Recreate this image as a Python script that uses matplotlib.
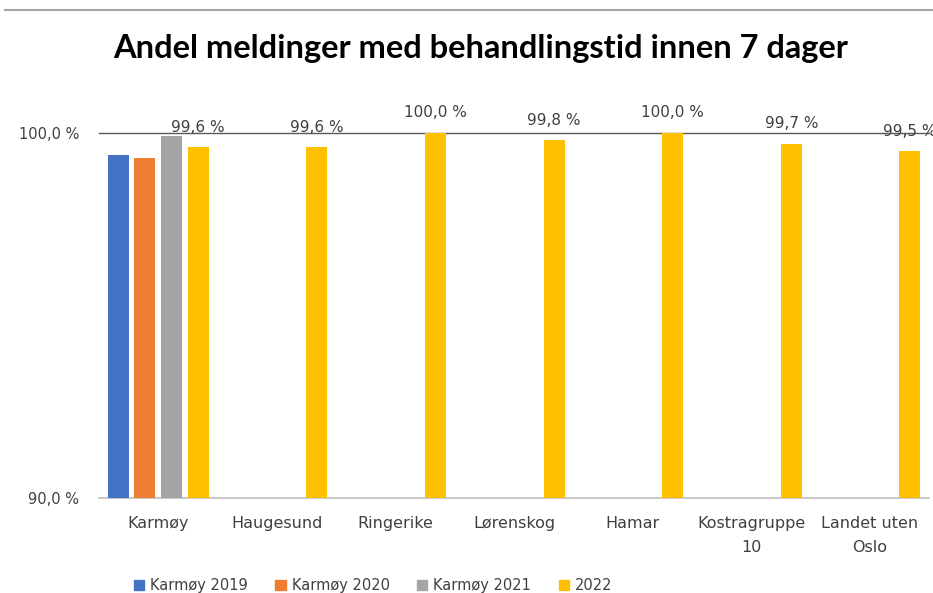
import numpy as np
import matplotlib
matplotlib.use('Agg')
import matplotlib.pyplot as plt
from matplotlib.lines import Line2D

categories = ['Karmøy', 'Haugesund', 'Ringerike', 'Lørenskog', 'Hamar', 'Kostragruppe\n10', 'Landet uten\nOslo']
series_names = ['Karmøy 2019', 'Karmøy 2020', 'Karmøy 2021', '2022']
karmoy_2019 = [99.4, np.nan, np.nan, np.nan, np.nan, np.nan, np.nan]
karmoy_2020 = [99.3, np.nan, np.nan, np.nan, np.nan, np.nan, np.nan]
karmoy_2021 = [99.9, np.nan, np.nan, np.nan, np.nan, np.nan, np.nan]
year_2022 = [99.6, 99.6, 100.0, 99.8, 100.0, 99.7, 99.5]
colors = ['#4472c4', '#ed7d31', '#a5a5a5', '#ffc000']

fig = plt.figure(figsize=(9.33, 5.93), dpi=100)
ax = fig.add_axes([0.106, 0.16, 0.89, 0.616])

x = np.arange(len(categories))
slot = 0.225
width = 0.177
all_series = [karmoy_2019, karmoy_2020, karmoy_2021, year_2022]
for i, (vals, name, col) in enumerate(zip(all_series, series_names, colors)):
    offs = (i - 1.5) * slot
    bars = ax.bar(x + offs, vals, width=width, color=col, label=name, zorder=3)
    if name == '2022':
        for xi, v in zip(x + offs, vals):
            ax.annotate(f'{v:.1f} %'.replace('.', ','), (xi, v), xytext=(0, 9),
                        textcoords='offset points', ha='center', va='bottom',
                        fontsize=11, color='#404040', annotation_clip=False)

ax.set_ylim(90, 100)
ax.set_xlim(-0.5, len(categories) - 0.5)
ax.set_yticks([90, 100])
ax.set_yticklabels(['90,0 %', '100,0 %'], fontsize=10.5, color='#404040')
ax.set_xticks(x)
ax.set_xticklabels(categories, fontsize=11.5, color='#404040', linespacing=1.7)

ax.axhline(100, color='#595959', lw=1.0, zorder=2, clip_on=False)
for s in ['top', 'right', 'left']:
    ax.spines[s].set_visible(False)
ax.spines['bottom'].set_color('#bfbfbf')
ax.spines['bottom'].set_linewidth(1.2)
ax.tick_params(axis='x', length=0, pad=13)
ax.tick_params(axis='y', length=0, pad=14)

fig.text(0.515, 0.918, 'Andel meldinger med behandlingstid innen 7 dager',
         ha='center', va='center', fontsize=23.5, fontweight='bold', family='Lato')

# top frame line
fig.add_artist(Line2D([0.005, 1.0], [0.983, 0.983], color='#a6a6a6', lw=1.5))

handles = [plt.Rectangle((0, 0), 1, 1, color=c) for c in colors]
fig.legend(handles, series_names, loc='center', bbox_to_anchor=(0.4, 0.012), ncol=4,
           frameon=False, fontsize=10.5, handlelength=0.7, handleheight=0.7,
           handletextpad=0.4, columnspacing=1.9, labelcolor='#404040')

plt.savefig('out.png', dpi=100)
